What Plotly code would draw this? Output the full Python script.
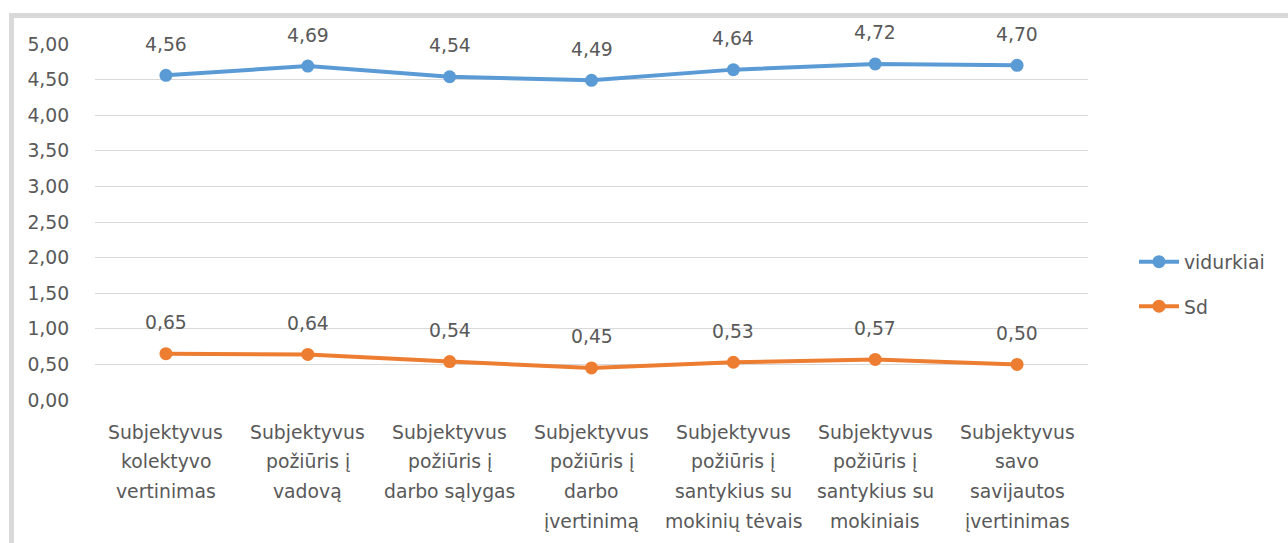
import plotly.graph_objects as go

categories = [
    "Subjektyvus\nkolektyvo\nvertinimas",
    "Subjektyvus\npožiūris į\nvadovą",
    "Subjektyvus\npožiūris į\ndarbo sąlygas",
    "Subjektyvus\npožiūris į\ndarbo\nįvertinimą",
    "Subjektyvus\npožiūris į\nsantykius su\nmokinių tėvais",
    "Subjektyvus\npožiūris į\nsantykius su\nmokiniais",
    "Subjektyvus\nsavo\nsavijautos\nįvertinimas",
]
vidurkiai = [4.56, 4.69, 4.54, 4.49, 4.64, 4.72, 4.70]
sd = [0.65, 0.64, 0.54, 0.45, 0.53, 0.57, 0.50]
y_ticks = [0, 0.5, 1, 1.5, 2, 2.5, 3, 3.5, 4, 4.5, 5]

FONT = "DejaVu Sans"
FS = 18.8
TXT = "#595959"
BLUE = "#5b9bd5"
ORANGE = "#ed7d31"

L, R, T, B = 95, 1088, 44, 400
W, H = 1288, 543

x = list(range(len(categories)))

fig = go.Figure()
fig.add_trace(go.Scatter(x=x, y=vidurkiai, mode="lines+markers", name="vidurkiai", legendgroup="a",
                         line=dict(color=BLUE, width=4), marker=dict(color=BLUE, size=13)))
fig.add_trace(go.Scatter(x=x, y=sd, mode="lines+markers", name="Sd", legendgroup="b",
                         line=dict(color=ORANGE, width=4), marker=dict(color=ORANGE, size=13)))

ann = []
for series in (vidurkiai, sd):
    for i, v in enumerate(series):
        ann.append(dict(x=i, y=v, xref="x", yref="y", text=f"{v:.2f}".replace(".", ","),
                        showarrow=False, yshift=31, font=dict(family=FONT, size=FS, color=TXT)))

for i, c in enumerate(categories):
    for j, line in enumerate(c.split("\n")):
        ann.append(dict(x=i, y=0, xref="x", yref="y", text=line, showarrow=False,
                        yshift=-(32 + j * 29.7), font=dict(family=FONT, size=FS, color=TXT)))

def px(xp):
    return (xp - L) / (R - L)

def py(yp):
    return (B - yp) / (B - T)

shapes = [dict(type="rect", xref="paper", yref="paper",
               x0=px(11.5), x1=px(W + 20), y0=py(H + 20), y1=py(15.5),
               line=dict(color="#d9d9d9", width=5), fillcolor="rgba(0,0,0,0)", layer="below")]

fig.update_layout(
    width=W, height=H,
    margin=dict(l=L, r=W - R, t=T, b=H - B, pad=0),
    paper_bgcolor="white", plot_bgcolor="white",
    separators=", ",
    font=dict(family=FONT, size=FS, color=TXT),
    xaxis=dict(range=[-0.5, len(categories) - 0.5], showticklabels=False, showgrid=False,
               zeroline=False, showline=False, ticks="", fixedrange=True),
    yaxis=dict(range=[0, 5], tickvals=y_ticks, tickformat=".2f", showgrid=True,
               gridcolor="#d9d9d9", gridwidth=1.3, zeroline=False, showline=False,
               ticks="outside", ticklen=21, tickcolor="white",
               tickfont=dict(family=FONT, size=FS, color=TXT)),
    legend=dict(x=px(1134), y=py(243), xanchor="left", yanchor="top",
                font=dict(family=FONT, size=FS, color=TXT), traceorder="grouped",
                tracegroupgap=17, bgcolor="rgba(0,0,0,0)", itemwidth=40),
    annotations=ann,
    shapes=shapes,
    showlegend=True,
)

fig.write_html("out.html", config={"displayModeBar": False},
               post_script="document.body.style.margin='0';document.body.style.overflow='hidden';")
